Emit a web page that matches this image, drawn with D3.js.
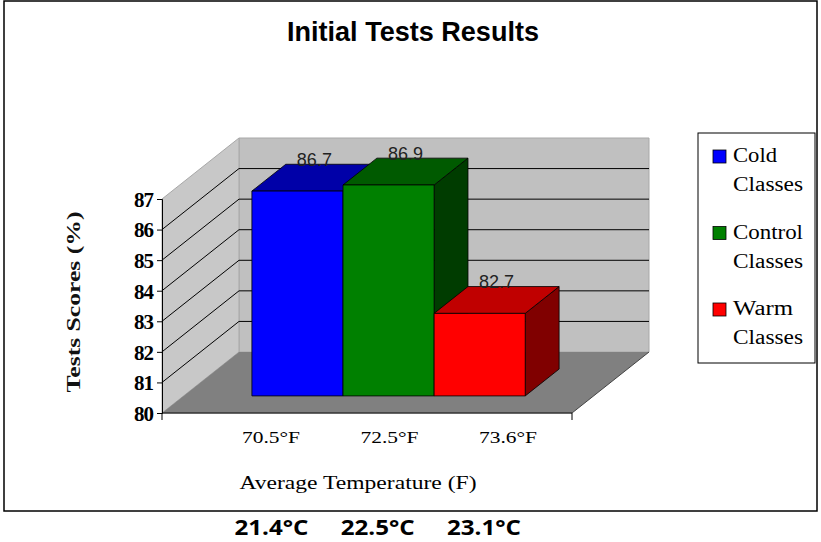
<!DOCTYPE html>
<html>
<head>
<meta charset="utf-8">
<script src="https://cdn.jsdelivr.net/npm/d3@7"></script>
<style>
  html, body { margin: 0; padding: 0; background: #fff; }
  svg { display: block; }
</style>
</head>
<body>
<svg id="chart" width="821" height="542"></svg>
<script>
// ---- data ----
const title = "Initial Tests Results";
const series = ["Cold Classes", "Control Classes", "Warm Classes"];
const legendLines = [["Cold", "Classes"], ["Control", "Classes"], ["Warm", "Classes"]];
const values = [86.7, 86.9, 82.7];
const fahrenheitLabels = ["70.5°F", "72.5°F", "73.6°F"];
const celsiusLabels = ["21.4°C", "22.5°C", "23.1°C"];
const yTicks = [80, 81, 82, 83, 84, 85, 86, 87];
const yDomain = [80, 87];
const xTitle = "Average Temperature (F)";
const yTitle = "Tests Scores (%)";

// ---- styles ----
const frontColors = ["#0000ff", "#008000", "#ff0000"];
const topColors = ["#0000a8", "#005a00", "#c00000"];
const sideColors = ["#00006a", "#003c00", "#800000"];

const svg = d3.select("#chart");

// ---- scales & projection ----
const y = d3.scaleLinear().domain(yDomain).range([413, 199]);
const x = d3.scaleBand().domain(series).range([162, 572]).paddingInner(0).paddingOuter(0.75);
const DX = 77, DY = -61;
const P = (xx, v, t) => [xx + DX * t, y(v) + DY * t];
const X0 = 162, X1 = 572;
const T0 = 0.28, T1 = 0.72;
const poly = pts => pts.map(p => p.join(",")).join(" ");

// outer frame
svg.append("rect").attr("x", 4).attr("y", 1).attr("width", 813).attr("height", 510)
  .attr("fill", "#fff").attr("stroke", "#000").attr("stroke-width", 1.5);

// title
svg.append("text").attr("x", 413).attr("y", 41).attr("text-anchor", "middle")
  .attr("font-family", "'Liberation Sans Narrow', 'Arial Narrow', 'Liberation Sans', Arial, sans-serif")
  .attr("font-weight", "bold").attr("font-size", 28)
  .attr("textLength", 252).attr("lengthAdjust", "spacingAndGlyphs")
  .text(title);

// walls
const [vmin, vmax] = yDomain;
svg.append("polygon").attr("points", poly([P(X0, vmin, 1), P(X1, vmin, 1), P(X1, vmax, 1), P(X0, vmax, 1)]))
  .attr("fill", "#c0c0c0").attr("stroke", "#a8a8a8").attr("stroke-width", 1);
svg.append("polygon").attr("points", poly([P(X0, vmin, 0), P(X0, vmax, 0), P(X0, vmax, 1), P(X0, vmin, 1)]))
  .attr("fill", "#c8c8c8").attr("stroke", "#a8a8a8").attr("stroke-width", 1);
svg.append("polygon").attr("points", poly([P(X0, vmin, 0), P(X1, vmin, 0), P(X1, vmin, 1), P(X0, vmin, 1)]))
  .attr("fill", "#808080").attr("stroke", "none");

// gridlines
const grid = yTicks.filter(v => v > vmin && v < vmax);
grid.forEach(v => {
  const a = P(X0, v, 0), b = P(X0, v, 1), c = P(X1, v, 1);
  svg.append("polyline").attr("points", poly([a, b, c]))
    .attr("fill", "none").attr("stroke", "#000").attr("stroke-width", 1);
});

// floor edges
svg.append("line").attr("x1", P(X0, vmin, 0)[0]).attr("y1", P(X0, vmin, 0)[1])
  .attr("x2", P(X1, vmin, 0)[0]).attr("y2", P(X1, vmin, 0)[1])
  .attr("stroke", "#333").attr("stroke-width", 1.5);
svg.append("line").attr("x1", P(X1, vmin, 0)[0]).attr("y1", P(X1, vmin, 0)[1])
  .attr("x2", P(X1, vmin, 1)[0]).attr("y2", P(X1, vmin, 1)[1])
  .attr("stroke", "#444").attr("stroke-width", 1);
[X0, X1].forEach(xx => {
  svg.append("line").attr("x1", xx).attr("x2", xx).attr("y1", y(vmin)).attr("y2", y(vmin) + 7)
    .attr("stroke", "#000").attr("stroke-width", 1);
});

// y axis
const yAxis = d3.axisLeft(y).tickValues(yTicks).tickSize(5).tickFormat(d3.format("d"));
const gy = svg.append("g").attr("transform", `translate(${X0},0)`).call(yAxis);
gy.select(".domain").attr("stroke", "#000");
gy.selectAll(".tick line").attr("stroke", "#000");
gy.selectAll(".tick text")
  .attr("font-family", "'Liberation Serif', 'Times New Roman', serif")
  .attr("font-weight", "bold").attr("font-size", 21).attr("fill", "#000")
  .attr("letter-spacing", -1)
  .attr("x", -9).attr("dy", "0.35em");

// bars
series.forEach((s, i) => {
  const v = values[i];
  const xa = x(s), xb = x(s) + x.bandwidth();
  const g = svg.append("g");
  g.append("polygon").attr("points", poly([P(xb, vmin, T0), P(xb, v, T0), P(xb, v, T1), P(xb, vmin, T1)]))
    .attr("fill", sideColors[i]).attr("stroke", "#000").attr("stroke-width", 0.8);
  g.append("polygon").attr("points", poly([P(xa, v, T0), P(xb, v, T0), P(xb, v, T1), P(xa, v, T1)]))
    .attr("fill", topColors[i]).attr("stroke", "#000").attr("stroke-width", 0.8);
  g.append("polygon").attr("points", poly([P(xa, vmin, T0), P(xb, vmin, T0), P(xb, v, T0), P(xa, v, T0)]))
    .attr("fill", frontColors[i]).attr("stroke", "#000").attr("stroke-width", 0.8);
});

// value labels
series.forEach((s, i) => {
  const v = values[i];
  const p = P(x(s) + x.bandwidth() / 2, v, 0.5);
  svg.append("text").attr("x", p[0]).attr("y", p[1] - 12).attr("text-anchor", "middle")
    .attr("font-family", "'Liberation Sans', Arial, sans-serif").attr("font-size", 18)
    .attr("fill", "#222").text(d3.format(".1f")(v));
});

// category labels (F)
const xl = d3.scalePoint().domain(fahrenheitLabels).range([271, 508]);
fahrenheitLabels.forEach(l => {
  svg.append("text").attr("x", xl(l)).attr("y", 443).attr("text-anchor", "middle")
    .attr("font-family", "'Liberation Serif', 'Times New Roman', serif").attr("font-size", 17)
    .attr("textLength", 58).attr("lengthAdjust", "spacingAndGlyphs")
    .text(l);
});

// x title
svg.append("text").attr("x", 358).attr("y", 489).attr("text-anchor", "middle")
  .attr("font-family", "'Liberation Serif', 'Times New Roman', serif").attr("font-size", 19)
  .attr("textLength", 237).attr("lengthAdjust", "spacingAndGlyphs")
  .text(xTitle);

// y title
svg.append("text").attr("transform", "translate(80,302) rotate(-90)").attr("text-anchor", "middle")
  .attr("font-family", "'Liberation Serif', 'Times New Roman', serif").attr("font-size", 18)
  .attr("font-weight", "bold").attr("fill", "#111")
  .attr("textLength", 181).attr("lengthAdjust", "spacingAndGlyphs")
  .text(yTitle);

// legend
svg.append("rect").attr("x", 698).attr("y", 133).attr("width", 117).attr("height", 230)
  .attr("fill", "#fff").attr("stroke", "#000").attr("stroke-width", 1);
const legendY = d3.scalePoint().domain(series).range([162, 315]);
const firstLen = [44, 70, 60];
series.forEach((s, i) => {
  const by = legendY(s);
  svg.append("rect").attr("x", 713).attr("y", by - 12).attr("width", 13).attr("height", 13)
    .attr("fill", frontColors[i]).attr("stroke", "#000").attr("stroke-width", 0.8);
  const t = svg.append("text").attr("font-family", "'Liberation Serif', 'Times New Roman', serif")
    .attr("font-size", 20).attr("fill", "#000");
  t.append("tspan").attr("x", 733).attr("y", by)
    .attr("textLength", firstLen[i]).attr("lengthAdjust", "spacingAndGlyphs").text(legendLines[i][0]);
  t.append("tspan").attr("x", 733).attr("y", by + 29)
    .attr("textLength", 70).attr("lengthAdjust", "spacingAndGlyphs").text(legendLines[i][1]);
});

// celsius labels below frame
const xc = d3.scalePoint().domain(celsiusLabels).range([271.5, 484]);
celsiusLabels.forEach(l => {
  svg.append("text").attr("x", xc(l)).attr("y", 535).attr("text-anchor", "middle")
    .attr("font-family", "'Open Sans', 'Noto Sans', sans-serif").attr("font-weight", "bold")
    .attr("font-size", 22).attr("fill", "#000")
    .attr("textLength", 74).attr("lengthAdjust", "spacingAndGlyphs")
    .text(l);
});
</script>
</body>
</html>
